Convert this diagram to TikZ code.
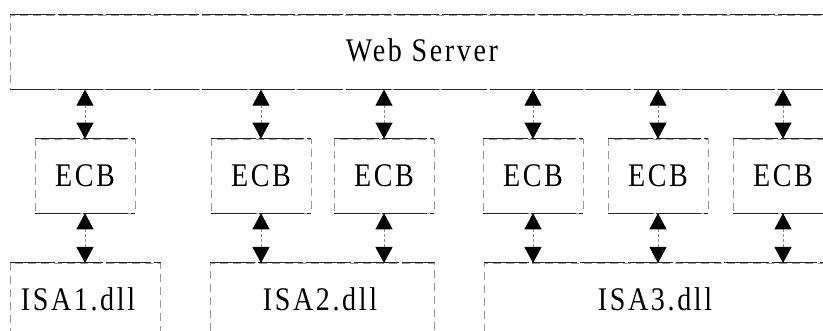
\documentclass[tikz,border=0pt]{standalone}
\usepackage{fontspec}
\setmainfont{Liberation Serif}[LetterSpace=8, FakeStretch=0.85]
\usetikzlibrary{arrows.meta}

\tikzset{
  headtip/.tip={Triangle[width=17pt,length=16pt,color=black,fill=black,line width=0.8pt]},
  box/.style={rectangle, draw=black!40, line width=0.6pt,
    dash pattern=on 8pt off 5pt, inner sep=0pt},
  edge/.style={draw=black!85, line width=1pt, dash pattern=on 45pt off 3pt},
  link/.style={black!45, line width=0.5pt, dash pattern=on 3pt off 2pt,
    headtip-headtip},
  label/.style={font=\fontsize{33}{35}\selectfont, inner sep=0pt},
  ecb/.style={box, minimum width=100pt, minimum height=74pt}
}

\begin{document}
\begin{tikzpicture}[x=1pt, y=-1pt]
  \useasboundingbox (0,0) rectangle (823,331);
  \clip (0,0) rectangle (823,331);

  % web server
  \node[box, anchor=north west, minimum width=830pt, minimum height=74pt] (ws) at (10,15) {};
  \node[label] (wst) at (422,50) {Web Server};
  \draw[edge] (ws.north west) -- (ws.north east);
  \draw[edge] (ws.south west) -- (ws.south east);

  % extension control blocks
  \node[ecb] (e1) at (85,176) {};
  \node[ecb] (e2) at (261,176) {};
  \node[ecb] (e3) at (384,176) {};
  \node[ecb] (e4) at (533,176) {};
  \node[ecb] (e5) at (658,176) {};
  \node[ecb] (e6) at (783,176) {};
  \foreach \i in {1,...,6} {
    \node[label] at (e\i) {ECB};
    \draw[edge] (e\i.north west) -- (e\i.north east);
    \draw[edge] (e\i.south west) -- (e\i.south east);
  }

  % ISAPI dlls
  \node[box, anchor=north west, minimum width=150pt, minimum height=90pt] (isa1) at (10,263) {};
  \node[box, anchor=north west, minimum width=224pt, minimum height=90pt] (isa2) at (210,263) {};
  \node[box, anchor=north west, minimum width=360pt, minimum height=90pt] (isa3) at (484,263) {};
  \foreach \i in {1,2,3} {
    \draw[edge] (isa\i.north west) -- (isa\i.north east);
  }
  \node[label] at (78,299) {ISA1.dll};
  \node[label] at (320,299) {ISA2.dll};
  \node[label] at (655,299) {ISA3.dll};

  % connectors
  \draw[link] (e1.north |- ws.south) -- (e1.north);
  \draw[link] (e2.north |- ws.south) -- (e2.north);
  \draw[link] (e3.north |- ws.south) -- (e3.north);
  \draw[link] (e4.north |- ws.south) -- (e4.north);
  \draw[link] (e5.north |- ws.south) -- (e5.north);
  \draw[link] (e6.north |- ws.south) -- (e6.north);

  \draw[link] (e1.south) -- (e1.south |- isa1.north);
  \draw[link] (e2.south) -- (e2.south |- isa2.north);
  \draw[link] (e3.south) -- (e3.south |- isa2.north);
  \draw[link] (e4.south) -- (e4.south |- isa3.north);
  \draw[link] (e5.south) -- (e5.south |- isa3.north);
  \draw[link] (e6.south) -- (e6.south |- isa3.north);
\end{tikzpicture}
\end{document}
